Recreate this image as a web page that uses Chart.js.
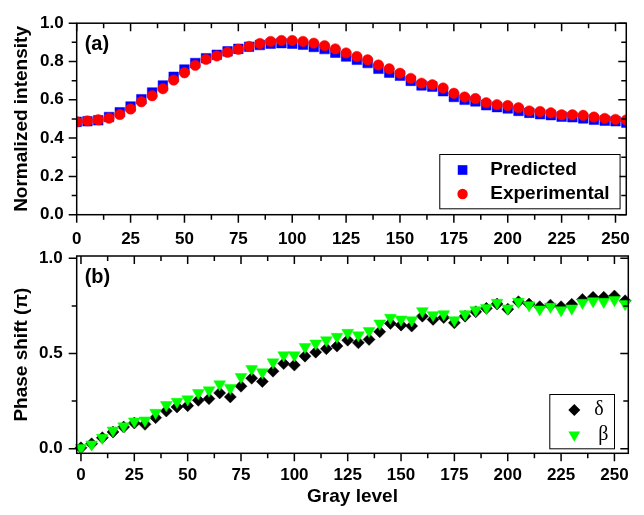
<!DOCTYPE html>
<html><head><meta charset="utf-8">
<script src="https://cdn.jsdelivr.net/npm/chart.js@4.4.1/dist/chart.umd.min.js"></script>
<style>
html,body{margin:0;padding:0;background:#fff;}
#wrap{position:relative;width:644px;height:515px;background:#fff;}
canvas{position:absolute;left:0;top:0;}
</style></head><body>
<div id="wrap"><canvas id="ca" width="644" height="515"></canvas><canvas id="cb" width="644" height="515"></canvas></div>
<script>
// ---- data ----
const grayLevels = [0,5,10,15,20,25,30,35,40,45,50,55,60,65,70,75,80,85,90,95,100,105,110,115,120,125,130,135,140,145,150,155,160,165,170,175,180,185,190,195,200,205,210,215,220,225,230,235,240,245,250,255];
const predicted = [0.485,0.488,0.493,0.510,0.535,0.565,0.603,0.638,0.675,0.720,0.758,0.792,0.817,0.835,0.853,0.866,0.877,0.886,0.893,0.896,0.893,0.888,0.876,0.865,0.846,0.826,0.809,0.792,0.762,0.742,0.726,0.699,0.675,0.669,0.645,0.615,0.600,0.592,0.572,0.562,0.555,0.542,0.532,0.525,0.520,0.512,0.509,0.503,0.496,0.491,0.488,0.481];
const experimental = [0.485,0.490,0.496,0.504,0.523,0.552,0.590,0.621,0.658,0.703,0.741,0.780,0.811,0.829,0.848,0.864,0.879,0.894,0.905,0.910,0.910,0.905,0.896,0.883,0.866,0.845,0.826,0.809,0.782,0.762,0.739,0.712,0.687,0.679,0.662,0.634,0.615,0.607,0.585,0.575,0.570,0.559,0.542,0.539,0.532,0.522,0.522,0.519,0.510,0.503,0.498,0.495];
const delta = [0.005,0.026,0.058,0.088,0.114,0.135,0.128,0.163,0.198,0.219,0.226,0.254,0.263,0.293,0.272,0.328,0.370,0.353,0.407,0.447,0.439,0.486,0.507,0.525,0.539,0.570,0.556,0.574,0.614,0.658,0.649,0.644,0.696,0.679,0.689,0.661,0.696,0.719,0.737,0.760,0.733,0.772,0.760,0.746,0.754,0.746,0.758,0.784,0.795,0.795,0.802,0.777];
const beta = [0.005,0.023,0.058,0.096,0.118,0.144,0.149,0.189,0.230,0.247,0.260,0.293,0.307,0.339,0.319,0.377,0.419,0.402,0.454,0.491,0.491,0.535,0.553,0.570,0.588,0.609,0.596,0.619,0.658,0.688,0.679,0.675,0.723,0.702,0.707,0.675,0.707,0.728,0.740,0.767,0.737,0.772,0.754,0.732,0.746,0.728,0.737,0.767,0.775,0.772,0.781,0.760];
const xTicks = [0,25,50,75,100,125,150,175,200,225,250];
const xMinorTicks = [12.5,37.5,62.5,87.5,112.5,137.5,162.5,187.5,212.5,237.5];
const yTicksA = [0,0.2,0.4,0.6,0.8,1.0];
const yMinorA = [0.1,0.3,0.5,0.7,0.9];
const yTicksB = [0,0.5,1.0];
const yMinorB = [0.25,0.75];

// ---- styles ----
const SANS = "'Liberation Sans', Arial, Helvetica, sans-serif";
const tickFont = {family: SANS, size: 17, weight: 'bold'};
const titleFont = {family: SANS, size: 19, weight: 'bold'};

function pts(ys){ return grayLevels.map((g,i)=>({x:g, y:ys[i]})); }

function drawMarker(ctx, shape, x, y, r, color){
  ctx.save();
  ctx.fillStyle = color;
  ctx.beginPath();
  if (shape === 'circle') { ctx.arc(x, y, r, 0, Math.PI*2); }
  else if (shape === 'rect') { const s = r*Math.SQRT1_2; ctx.rect(x-s, y-s, 2*s, 2*s); }
  else if (shape === 'rectRot') { ctx.moveTo(x-r,y); ctx.lineTo(x,y-r); ctx.lineTo(x+r,y); ctx.lineTo(x,y+r); ctx.closePath(); }
  else if (shape === 'triDown') { const h = r*Math.sin(Math.PI/3); ctx.moveTo(x, y+r); ctx.lineTo(x-h, y-r/2); ctx.lineTo(x+h, y-r/2); ctx.closePath(); }
  ctx.fill();
  ctx.restore();
}

function framePlugin(opts){
  return {
    id: 'frame',
    afterDatasetsDraw(chart){
      const {ctx, chartArea:a, scales:{x, y}} = chart;
      ctx.save();
      ctx.strokeStyle = '#000';
      ctx.lineWidth = 1.5;
      ctx.strokeRect(a.left, a.top, a.right-a.left, a.bottom-a.top);
      ctx.beginPath();
      const tick = (vals, len) => {
        vals.forEach(v => {
          const px = x.getPixelForValue(v);
          if (px < a.left-0.5 || px > a.right+0.5) return;
          ctx.moveTo(px, a.bottom); ctx.lineTo(px, a.bottom+len);
          ctx.moveTo(px, a.top); ctx.lineTo(px, a.top+len);
        });
      };
      const ytick = (vals, len) => {
        vals.forEach(v => {
          const py = y.getPixelForValue(v);
          ctx.moveTo(a.left-len, py); ctx.lineTo(a.left, py);
          ctx.moveTo(a.right-len, py); ctx.lineTo(a.right, py);
        });
      };
      tick(xTicks, 8); tick(xMinorTicks, 5);
      ytick(opts.yMajor, 8); ytick(opts.yMinor, 5);
      ctx.stroke();
      ctx.restore();
    },
    afterDraw(chart){
      const {ctx, chartArea:a} = chart;
      ctx.save();
      ctx.fillStyle = '#000';
      ctx.font = "bold 20px " + SANS;
      ctx.textBaseline = 'middle';
      ctx.textAlign = 'left';
      ctx.fillText(opts.panel, a.left + 8, a.top + 21);
      // legend
      const L = opts.legend;
      const bx = a.right - L.fromRight, by = a.bottom - L.fromBottom;
      ctx.lineWidth = 1;
      ctx.strokeStyle = '#000';
      ctx.fillStyle = '#fff';
      ctx.fillRect(bx, by, L.w, L.h);
      ctx.strokeRect(bx+0.5, by+0.5, L.w, L.h);
      L.items.forEach(it => {
        drawMarker(ctx, it.shape, bx + L.mx, by + it.dy, it.r, it.color);
        ctx.fillStyle = '#000';
        ctx.font = L.font;
        ctx.textAlign = 'left';
        ctx.textBaseline = 'middle';
        ctx.fillText(it.label, bx + it.tx, by + it.dy);
      });
      ctx.restore();
    }
  };
}

function xScale(min, max, pad, height, title){
  return {
    type: 'linear', min, max,
    afterBuildTicks: s => { s.ticks = xTicks.map(v => ({value: v})); },
    afterFit: s => { s.height = height; },
    ticks: {padding: pad, color: '#000', font: tickFont, maxRotation: 0, autoSkip: false, callback: v => String(v)},
    grid: {display: false, drawTicks: false},
    border: {display: false},
    title: title
  };
}
function yScale(min, max, ticks, pad, title){
  return {
    type: 'linear', min, max,
    afterBuildTicks: s => { s.ticks = ticks.map(v => ({value: v})); },
    afterFit: s => { s.width = 76.7; },
    ticks: {padding: pad, color: '#000', font: tickFont, callback: v => v.toFixed(1)},
    grid: {display: false, drawTicks: false},
    border: {display: false},
    title: {display: true, text: title, color: '#000', font: titleFont, padding: {top: 10, bottom: 0}}
  };
}

const common = {
  responsive: false, animation: false, devicePixelRatio: 1,
  plugins: {legend: {display: false}, tooltip: {enabled: false}}
};

new Chart(document.getElementById('ca'), {
  type: 'scatter',
  data: {datasets: [
    {label: 'Experimental', data: pts(experimental), order: 0, clip: 0, pointStyle: 'circle', pointRadius: 5.2, pointBackgroundColor: '#ff0000', pointBorderColor: '#ff0000', pointBorderWidth: 0.5},
    {label: 'Predicted', data: pts(predicted), order: 1, clip: 0, pointStyle: 'rect', pointRadius: 6.8, pointBackgroundColor: '#0000ff', pointBorderColor: '#0000ff', pointBorderWidth: 0.5}
  ]},
  options: Object.assign({}, common, {
    layout: {padding: {left: 0, top: 15.3, right: 16.3, bottom: 265}},
    scales: {
      x: xScale(0, 255, 14, 35.3, {display: false}),
      y: yScale(0, 1, yTicksA, 13, 'Normalized intensity')
    }
  }),
  plugins: [framePlugin({panel: '(a)', yMajor: yTicksA, yMinor: yMinorA, legend: {
    fromRight: 187, fromBottom: 60.7, w: 180.3, h: 54.3, mx: 23.3, font: "bold 19px " + SANS,
    items: [
      {label: 'Predicted', shape: 'rect', r: 6.8, color: '#0000ff', dy: 16, tx: 51},
      {label: 'Experimental', shape: 'circle', r: 5.2, color: '#ff0000', dy: 40, tx: 51}
    ]}})]
});

new Chart(document.getElementById('cb'), {
  type: 'scatter',
  data: {datasets: [
    {label: 'β', data: pts(beta), order: 0, clip: false, pointStyle: 'triangle', rotation: 180, pointRadius: 6.8, pointBackgroundColor: '#00ff00', pointBorderColor: '#00ff00', pointBorderWidth: 0.5},
    {label: 'δ', data: pts(delta), order: 1, clip: false, pointStyle: 'rectRot', pointRadius: 6, pointBackgroundColor: '#000000', pointBorderColor: '#000000', pointBorderWidth: 0.5}
  ]},
  options: Object.assign({}, common, {
    layout: {padding: {left: 0, top: 256, right: 15.7, bottom: 0}},
    scales: {
      x: xScale(-2, 256.5, 11.5, 61.7, {display: true, text: 'Gray level', color: '#000', font: titleFont, padding: {top: 0, bottom: 6.6}}),
      y: yScale(-0.024, 1.012, yTicksB, 14, 'Phase shift (π)')
    }
  }),
  plugins: [framePlugin({panel: '(b)', yMajor: yTicksB, yMinor: yMinorB, legend: {
    fromRight: 79, fromBottom: 59.3, w: 64.7, h: 54.3, mx: 25, font: "20px 'Liberation Serif', 'Times New Roman', serif",
    items: [
      {label: 'δ', shape: 'rectRot', r: 6, color: '#000000', dy: 16, tx: 45},
      {label: 'β', shape: 'triDown', r: 6.8, color: '#00ff00', dy: 41, tx: 49}
    ]}})]
});
</script>
</body></html>
